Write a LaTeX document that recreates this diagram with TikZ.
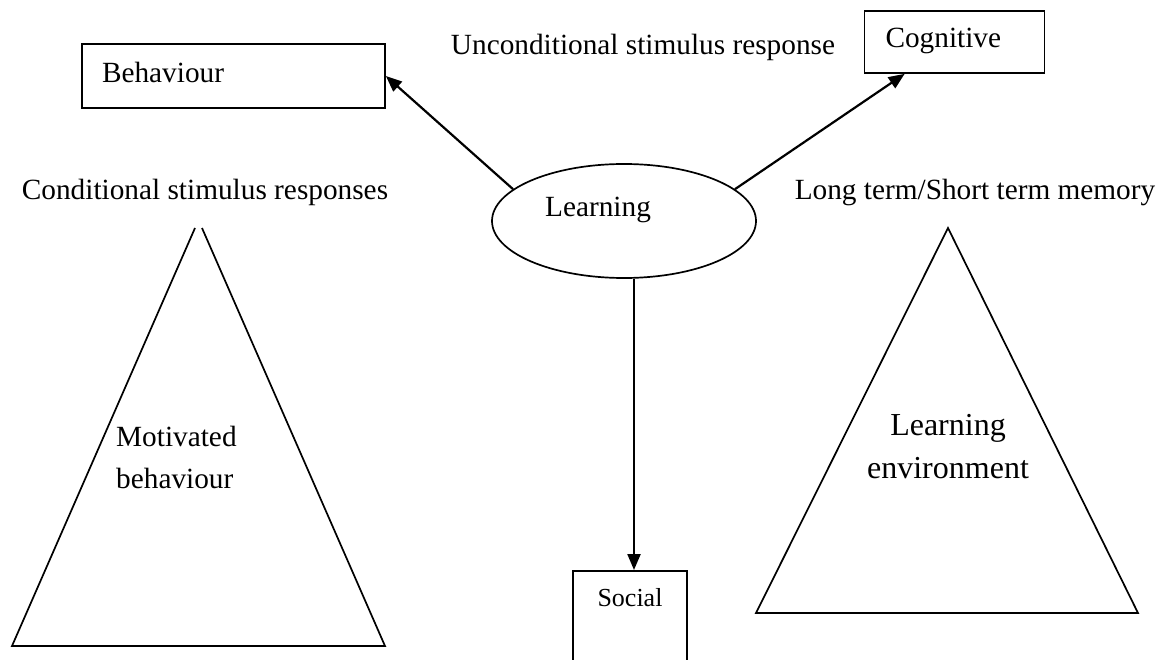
\documentclass[tikz,border=0pt]{standalone}
\usepackage{fontspec}
\setmainfont{Liberation Serif}
\usetikzlibrary{arrows.meta,shapes.geometric,positioning}

\begin{document}
\begin{tikzpicture}[x=1pt,y=-1pt,>={Triangle[length=16pt,width=13pt]},
    every node/.style={font=\fontsize{29.3pt}{42pt}\selectfont},
    box/.style={draw,line width=1.7pt,inner xsep=20pt,align=left,text depth=8pt},
    txt/.style={anchor=base,inner sep=0pt},
    tri/.style={line width=1.7pt},
    link/.style={->,line width=2.2pt}]
    \useasboundingbox (0,0) rectangle (1164,660);
    \clip (0,0) rectangle (1164,660);

    \node[box, text width=263pt, minimum height=64pt] (behav) at (233.5,76) {Behaviour};
    \node[box, text width=138pt, inner xsep=21pt, minimum height=62pt] (cog) at (954.5,42) {Cognitive};
    \node[draw, ellipse, line width=1.7pt, minimum width=264pt, minimum height=114pt] (learn) at (624,221) {};
    \node[txt] (learntxt) at (598,217) {Learning};
    \node[draw, line width=1.7pt, anchor=north, minimum width=114pt, inner ysep=18pt, text depth=60pt,
        font=\fontsize{26pt}{30pt}\selectfont] (soc) at (630,570) {Social};

    \node[txt] (uncond) at (643,55) {Unconditional stimulus response};
    \node[txt] (cond) at (205,200) {Conditional stimulus responses};
    \node[txt] (memory) at (975,200) {Long term/Short term memory};
    \node[txt, anchor=base west, align=left] (motiv) at (116,488) {Motivated\\behaviour};
    \node[txt, align=center, font=\fontsize{32pt}{43pt}\selectfont] (envir) at (948,478) {Learning\\environment};

    \draw[tri] (195,228) -- (12,646) -- (385,646) -- (202,228);
    \draw[tri] (948,228) -- (756,613) -- (1138,613) -- cycle;

    \path[link] (learn.164) edge (behav.east);
    \path[link] (learn.16) edge ([xshift=41pt]cog.south west);
    \path[link] ([xshift=10pt]learn.south) edge ([xshift=10pt]learn.south |- soc.north);
\end{tikzpicture}
\end{document}
